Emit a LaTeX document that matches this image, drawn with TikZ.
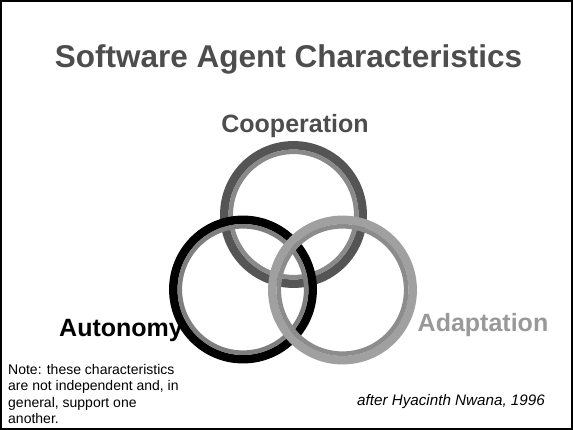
\documentclass[tikz,border=0pt]{standalone}
\usepackage{fontspec}
\setmainfont{Liberation Sans}
\begin{document}
\begin{tikzpicture}[x=1pt,y=-1pt,
  lbl/.style={inner sep=0pt, font=\bfseries\fontsize{25}{28}\selectfont},
  notetxt/.style={inner sep=0pt, font=\fontsize{14}{16.5}\selectfont, anchor=base west},
]
\definecolor{titlegray}{HTML}{4D4D4D}
\definecolor{coopdark}{HTML}{555555}
\definecolor{cooplight}{HTML}{8A8A8A}
\definecolor{autolight}{HTML}{7F7F7F}
\definecolor{adaptout}{HTML}{A0A0A0}
\definecolor{adaptin}{HTML}{8C8C8C}
\definecolor{adapttext}{HTML}{999999}
\useasboundingbox (0,0) rectangle (573,430);
\fill[white] (0,0) rectangle (573,430);
\draw[line width=1.5pt] (1,1) rectangle (572,429);

% rings
\coordinate (cc) at (293.5,214.5);
\coordinate (ca) at (243,289.5);
\coordinate (cd) at (342.5,290);
\draw[coopdark, line width=8.5pt] (cc) circle[radius=69.2pt];
\draw[cooplight, line width=4.6pt] (cc) circle[radius=62.7pt];
\draw[black, line width=8.5pt] (ca) circle[radius=69.7pt];
\draw[autolight, line width=4.6pt] (ca) circle[radius=63.2pt];
\draw[adaptout, line width=8.5pt] (cd) circle[radius=70.2pt];
\draw[adaptin, line width=4.6pt] (cd) circle[radius=63.7pt];

% texts
\node[inner sep=0pt, anchor=base, text=titlegray, font=\bfseries\fontsize{31.5}{36}\selectfont] (title) at (288.5,68) {Software Agent Characteristics};
\node[lbl, anchor=base, text=titlegray] (coop) at (295,133) {Cooperation};
\node[lbl, anchor=base, text=black] (auto) at (121,337) {Autonomy};
\node[lbl, anchor=base, text=adapttext] (adapt) at (483,332) {Adaptation};
\node[notetxt] (n1) at (8,374) {Note: these characteristics};
\node[notetxt] (n2) at (8,390.5) {are not independent and, in};
\node[notetxt] (n3) at (8,407) {general, support one};
\node[notetxt] (n4) at (8,423.5) {another.};
\node[inner sep=0pt, anchor=base east, font=\itshape\fontsize{15.2}{17}\selectfont] (after) at (545,405) {after Hyacinth Nwana, 1996};
\end{tikzpicture}
\end{document}
